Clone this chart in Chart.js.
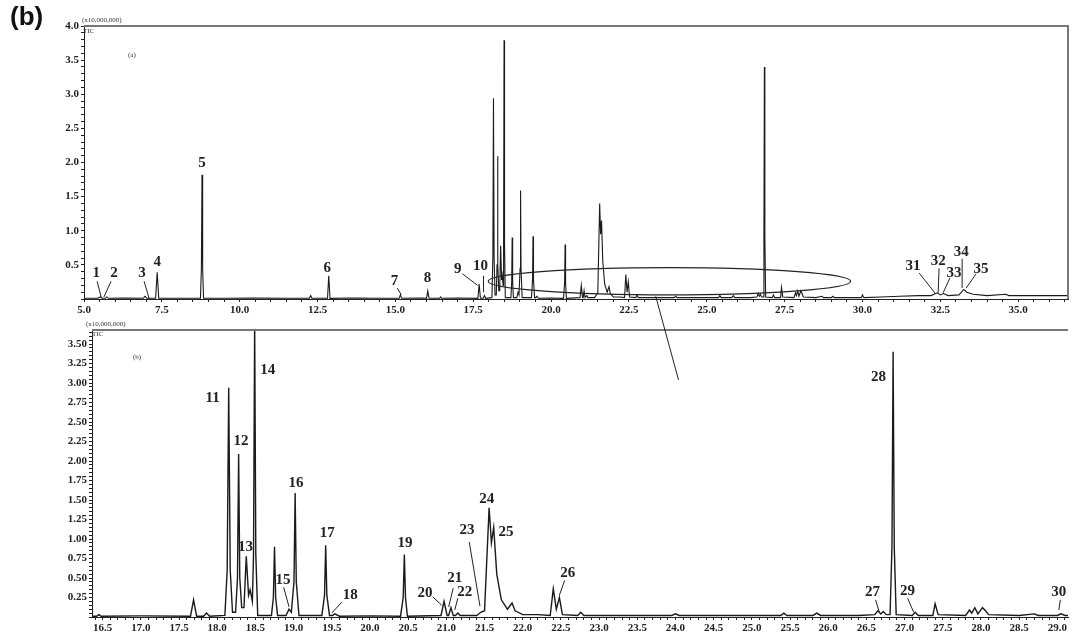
<!DOCTYPE html>
<html>
<head>
<meta charset="utf-8">
<script src="https://cdn.jsdelivr.net/npm/chart.js@4.4.0/dist/chart.umd.min.js"></script>
<style>
  html, body { margin: 0; padding: 0; background: #fff; }
  #wrap { position: relative; width: 1080px; height: 636px; overflow: hidden; background: #fff; }
  #wrap canvas { position: absolute; left: 0; top: 0; }
  .tag { position: absolute; left: 10px; top: 1px; font: bold 26px "Liberation Sans", Arial, sans-serif; color: #111; z-index: 3; }
  .note { position: absolute; font-family: "Liberation Serif", serif; font-size: 7px; color: #333; z-index: 3; white-space: nowrap; }
</style>
</head>
<body>
<div id="wrap">
  <canvas id="top" width="1080" height="636"></canvas>
  <canvas id="bottom" width="1080" height="636"></canvas>
  <div class="tag">(b)</div>
  <div class="note" style="left:82px;top:16px;">(x10,000,000)</div>
  <div class="note" style="left:83px;top:27px;">TIC</div>
  <div class="note" style="left:128px;top:51px;">(a)</div>
  <div class="note" style="left:86px;top:320px;">(x10,000,000)</div>
  <div class="note" style="left:92px;top:330px;">TIC</div>
  <div class="note" style="left:133px;top:353px;">(b)</div>
</div>
<script>
// retention time (min) and abundance (x10,000,000)
const retentionTime = [
  5.00, 5.45, 5.52, 5.58, 5.68, 5.73, 5.78, 6.30, 6.90, 6.96, 7.02, 7.30, 7.35, 7.40,
  8.74, 8.77, 8.79, 8.81, 8.84, 9.60, 10.40, 11.50, 12.24, 12.28, 12.32, 12.82, 12.86, 12.90,
  13.60, 14.50, 15.12, 15.16, 15.20, 15.85, 16.00, 16.04, 16.08, 16.42, 16.45, 16.48,
  17.00, 17.65, 17.69, 17.73, 17.82, 17.86, 17.90,
  18.10, 18.13, 18.15, 18.17, 18.20, 18.24, 18.265, 18.28, 18.295, 18.32,
  18.35, 18.38, 18.41, 18.43, 18.46, 18.475, 18.49, 18.505, 18.53,
  18.71, 18.735, 18.75, 18.765, 18.79, 18.90, 18.94, 18.97, 19.005, 19.02, 19.035, 19.07,
  19.37, 19.405, 19.42, 19.435, 19.47,
  19.51, 19.54, 19.60, 20.00, 20.40, 20.435, 20.45, 20.465, 20.49,
  20.93, 20.97, 21.01, 21.03, 21.06, 21.09,
  21.12, 21.15, 21.18, 21.40, 21.45, 21.50, 21.56, 21.59, 21.62, 21.66, 21.72, 21.80,
  21.86, 21.90, 22.00, 22.20, 22.36, 22.40, 22.44, 22.48, 22.52, 22.72, 22.76, 22.80,
  23.50, 23.95, 24.00, 24.05, 24.60, 25.00, 25.38, 25.42, 25.46, 25.80, 25.85, 25.90,
  26.40, 26.61, 26.65, 26.69, 26.72, 26.76, 26.81, 26.835, 26.85, 26.865, 26.89,
  27.10, 27.14, 27.18,
  27.37, 27.40, 27.44, 27.80, 27.85, 27.88, 27.92, 27.96, 28.02, 28.06, 28.10,
  28.50, 28.70, 28.75, 29.00, 29.05, 29.10, 29.50, 29.96, 30.00, 30.04, 30.60, 31.20,
  31.80, 32.20, 32.40, 32.50, 32.60, 32.75, 33.10, 33.25, 33.35, 33.55, 34.00, 34.60,
  34.70, 35.50, 36.60
];
const abundance = [
  0.01, 0.01, 0.03, 0.01, 0.01, 0.03, 0.01, 0.015, 0.01, 0.04, 0.01, 0.01, 0.39, 0.01,
  0.01, 0.45, 1.82, 0.45, 0.01, 0.01, 0.015, 0.01, 0.01, 0.05, 0.01, 0.01, 0.34, 0.01,
  0.015, 0.01, 0.01, 0.06, 0.01, 0.015, 0.01, 0.12, 0.01, 0.01, 0.03, 0.01,
  0.015, 0.01, 0.22, 0.01, 0.01, 0.05, 0.01,
  0.02, 0.60, 2.94, 0.60, 0.06, 0.06, 0.50, 2.09, 0.50, 0.12,
  0.12, 0.78, 0.28, 0.35, 0.20, 0.80, 3.79, 0.80, 0.02,
  0.02, 0.25, 0.90, 0.25, 0.02, 0.02, 0.10, 0.06, 0.45, 1.59, 0.45, 0.02,
  0.02, 0.28, 0.92, 0.28, 0.02,
  0.02, 0.04, 0.01, 0.015, 0.01, 0.25, 0.80, 0.25, 0.01,
  0.02, 0.20, 0.02, 0.02, 0.12, 0.02,
  0.02, 0.05, 0.02, 0.02, 0.06, 0.08, 1.40, 0.95, 1.15, 0.55, 0.22, 0.10,
  0.18, 0.08, 0.03, 0.03, 0.02, 0.36, 0.10, 0.25, 0.03, 0.02, 0.06, 0.02,
  0.02, 0.02, 0.04, 0.02, 0.02, 0.02, 0.02, 0.05, 0.02, 0.02, 0.05, 0.02,
  0.02, 0.03, 0.08, 0.04, 0.07, 0.03, 0.03, 0.90, 3.40, 0.90, 0.03,
  0.02, 0.06, 0.02,
  0.02, 0.17, 0.03, 0.02, 0.09, 0.05, 0.12, 0.04, 0.12, 0.08, 0.03,
  0.02, 0.04, 0.02, 0.02, 0.04, 0.02, 0.02, 0.02, 0.06, 0.02, 0.03, 0.04,
  0.05, 0.05, 0.09, 0.06, 0.08, 0.05, 0.06, 0.14, 0.10, 0.07, 0.05, 0.07,
  0.05, 0.05, 0.05
];

// peak numbers: [text, labelX, labelY, leader from x, y, to x, y] in data units
const topPeakLabels = [
  ['1', 5.39, 0.38, 5.42, 0.26, 5.55, 0.03],
  ['2', 5.96, 0.38, 5.87, 0.26, 5.64, 0.03],
  ['3', 6.86, 0.38, 6.93, 0.26, 7.09, 0.01],
  ['4', 7.35, 0.54],
  ['5', 8.79, 1.99],
  ['6', 12.81, 0.45],
  ['7', 14.97, 0.26, 15.06, 0.16, 15.19, 0.06],
  ['8', 16.03, 0.31],
  ['9', 17.0, 0.44, 17.15, 0.37, 17.64, 0.20],
  ['10', 17.73, 0.48, 17.83, 0.34, 17.83, 0.10],
  ['31', 31.62, 0.48, 31.82, 0.38, 32.36, 0.07],
  ['32', 32.43, 0.56, 32.46, 0.45, 32.43, 0.09],
  ['33', 32.94, 0.38, 32.81, 0.31, 32.59, 0.09],
  ['34', 33.17, 0.69, 33.20, 0.59, 33.20, 0.16],
  ['35', 33.81, 0.44, 33.65, 0.37, 33.33, 0.16]
];
const bottomPeakLabels = [
  ['11', 17.94, 2.81],
  ['12', 18.31, 2.26],
  ['13', 18.37, 0.90],
  ['14', 18.66, 3.17],
  ['15', 18.86, 0.47, 18.87, 0.38, 18.94, 0.13],
  ['16', 19.03, 1.72],
  ['17', 19.44, 1.08],
  ['18', 19.74, 0.28, 19.63, 0.19, 19.50, 0.05],
  ['19', 20.46, 0.95],
  ['20', 20.72, 0.31, 20.82, 0.26, 20.94, 0.15],
  ['21', 21.11, 0.50, 21.09, 0.37, 21.03, 0.13],
  ['22', 21.24, 0.32, 21.15, 0.24, 21.11, 0.09],
  ['23', 21.27, 1.12, 21.30, 0.96, 21.44, 0.14],
  ['24', 21.53, 1.51],
  ['25', 21.78, 1.09],
  ['26', 22.59, 0.56, 22.55, 0.47, 22.48, 0.28],
  ['27', 26.58, 0.32, 26.62, 0.22, 26.67, 0.06],
  ['28', 26.66, 3.08],
  ['29', 27.04, 0.33, 27.04, 0.24, 27.12, 0.06],
  ['30', 29.02, 0.32, 29.04, 0.22, 29.02, 0.09]
];

const points = retentionTime.map((t, i) => ({ x: t, y: abundance[i] }));
const tickFont = { family: 'Liberation Serif', weight: 'bold', size: 11 };
const ink = '#222';

function isStep(v, step) {
  const r = v / step;
  return Math.abs(r - Math.round(r)) < 1e-6;
}

function drawLabels(chart, labels, size) {
  const { ctx, scales: { x, y } } = chart;
  ctx.save();
  ctx.fillStyle = ink;
  ctx.strokeStyle = ink;
  ctx.lineWidth = 1;
  ctx.font = 'bold ' + size + 'px "Liberation Serif"';
  ctx.textAlign = 'center';
  ctx.textBaseline = 'middle';
  labels.forEach(l => {
    ctx.fillText(l[0], x.getPixelForValue(l[1]), y.getPixelForValue(l[2]));
    if (l.length > 3) {
      ctx.beginPath();
      ctx.moveTo(x.getPixelForValue(l[3]), y.getPixelForValue(l[4]));
      ctx.lineTo(x.getPixelForValue(l[5]), y.getPixelForValue(l[6]));
      ctx.stroke();
    }
  });
  ctx.restore();
}

function frame(chart, withRight) {
  const { ctx, chartArea: a } = chart;
  ctx.save();
  ctx.strokeStyle = '#777';
  ctx.lineWidth = 2;
  ctx.beginPath();
  ctx.moveTo(a.left, a.top);
  ctx.lineTo(a.right, a.top);
  if (withRight) ctx.lineTo(a.right, a.bottom);
  ctx.stroke();
  ctx.restore();
}

function baseOptions(cfg) {
  return {
    responsive: false,
    animation: false,
    events: [],
    layout: { padding: cfg.padding },
    plugins: { legend: { display: false }, tooltip: { enabled: false } },
    scales: {
      x: {
        type: 'linear',
        min: cfg.xMin,
        max: cfg.xMax,
        afterFit: s => { s.height = cfg.xHeight; },
        border: { display: true, color: ink, width: 1 },
        grid: { display: true, drawOnChartArea: false, drawTicks: true, tickLength: 3, color: ink },
        ticks: {
          stepSize: cfg.xStep,
          includeBounds: false,
          autoSkip: false,
          maxRotation: 0,
          minRotation: 0,
          padding: 2,
          color: ink,
          font: tickFont,
          callback: v => isStep(v, cfg.xLabelStep) ? v.toFixed(1) : ''
        }
      },
      y: {
        min: 0,
        max: cfg.yMax,
        afterFit: s => { s.width = cfg.yWidth; },
        border: { display: true, color: ink, width: 1 },
        grid: { display: true, drawOnChartArea: false, drawTicks: true, tickLength: 3, color: ink },
        ticks: {
          stepSize: cfg.yStep,
          includeBounds: false,
          autoSkip: false,
          padding: 2,
          color: ink,
          font: tickFont,
          callback: v => (v > 0.01 && isStep(v, cfg.yLabelStep)) ? v.toFixed(cfg.yDigits) : ''
        }
      }
    }
  };
}

function traceDataset(width) {
  return {
    data: points,
    borderColor: '#1a1a1a',
    borderWidth: width,
    pointRadius: 0,
    tension: 0,
    fill: false
  };
}

const topChart = new Chart(document.getElementById('top'), {
  type: 'line',
  data: { datasets: [traceDataset(1.1)] },
  options: baseOptions({
    padding: { top: 26, right: 12, bottom: 315, left: 0 },
    xMin: 5, xMax: 36.6, xStep: 0.5, xLabelStep: 2.5, xHeight: 22,
    yMax: 4, yStep: 0.1, yLabelStep: 0.5, yDigits: 1, yWidth: 84
  }),
  plugins: [{
    id: 'topDecor',
    afterDraw(chart) {
      frame(chart, true);
      drawLabels(chart, topPeakLabels, 15);
      // zoom ellipse around 18-29.6 min
      const { ctx, scales: { x, y } } = chart;
      const cx = x.getPixelForValue(23.8), cy = y.getPixelForValue(0.26);
      const rx = x.getPixelForValue(29.62) - cx, ry = cy - y.getPixelForValue(0.46);
      ctx.save();
      ctx.strokeStyle = ink;
      ctx.lineWidth = 1.2;
      ctx.beginPath();
      ctx.ellipse(cx, cy, rx, ry, 0, 0, Math.PI * 2);
      ctx.stroke();
      ctx.restore();
    }
  }]
});

new Chart(document.getElementById('bottom'), {
  type: 'line',
  data: { datasets: [traceDataset(1.4)] },
  options: baseOptions({
    padding: { top: 330, right: 12, bottom: 0, left: 0 },
    xMin: 16.36, xMax: 29.14, xStep: 0.1, xLabelStep: 0.5, xHeight: 19,
    yMax: 3.68, yStep: 0.05, yLabelStep: 0.25, yDigits: 2, yWidth: 92
  }),
  plugins: [{
    id: 'bottomDecor',
    afterDraw(chart) {
      frame(chart, false);
      drawLabels(chart, bottomPeakLabels, 15);
      // connector from the ellipse down into the expanded view
      const { ctx, scales: { x, y } } = chart;
      const tx = topChart.scales.x, ty = topChart.scales.y;
      ctx.save();
      ctx.strokeStyle = ink;
      ctx.lineWidth = 1;
      ctx.beginPath();
      ctx.moveTo(tx.getPixelForValue(23.36), ty.getPixelForValue(0.04));
      ctx.lineTo(x.getPixelForValue(24.04), y.getPixelForValue(3.04));
      ctx.stroke();
      ctx.restore();
    }
  }]
});
</script>
</body>
</html>
